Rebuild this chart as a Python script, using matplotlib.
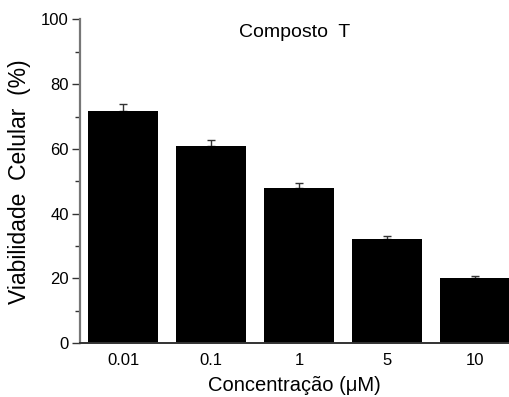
import matplotlib
matplotlib.use("Agg")
import matplotlib.pyplot as plt
from matplotlib.ticker import MultipleLocator

categories = ["0.01", "0.1", "1", "5", "10"]
viabilidade = [71.8, 60.8, 48.0, 32.1, 20.0]
erro = [2.1, 1.9, 1.3, 0.9, 0.6]

plt.rcParams['font.family'] = ['Liberation Sans', 'DejaVu Sans']

fig = plt.figure(figsize=(5.09, 3.97), dpi=100)
ax = fig.add_axes([0.157, 0.136, 0.843, 0.815])

x = list(range(len(categories)))
ax.bar(x, viabilidade, width=0.8, color='black', edgecolor='none', zorder=2)
ax.errorbar(x, viabilidade, yerr=[[0] * len(erro), erro], fmt='none',
            ecolor='#333333', elinewidth=1.0, capsize=3, capthick=1.0, zorder=1)

ax.set_xlim(-0.49, 4.385)
ax.set_ylim(0, 100)
ax.set_xticks(x)
ax.set_xticklabels(categories)
ax.yaxis.set_major_locator(MultipleLocator(20))
ax.yaxis.set_minor_locator(MultipleLocator(10))

for s in ['top', 'right']:
    ax.spines[s].set_visible(False)
ax.spines['left'].set_color('#777777')
ax.spines['left'].set_linewidth(1.6)
ax.spines['bottom'].set_color('#333333')
ax.spines['bottom'].set_linewidth(1.4)

ax.tick_params(axis='y', which='major', direction='out', length=6, width=1.0,
               color='#333333', labelsize=12, pad=2)
ax.tick_params(axis='y', which='minor', direction='out', length=3.5, width=1.0,
               color='#333333')
ax.tick_params(axis='x', which='major', length=0, labelsize=12, pad=7)

ax.set_ylabel("Viabilidade  Celular  (%)", fontsize=16.5, labelpad=7)
ax.set_xlabel("Concentração (μM)", fontsize=14.5, labelpad=6)
ax.text(0.5, 0.985, "Composto  T", transform=ax.transAxes, ha='center', va='top',
        fontsize=14)

fig.savefig("out.png", dpi=100)
